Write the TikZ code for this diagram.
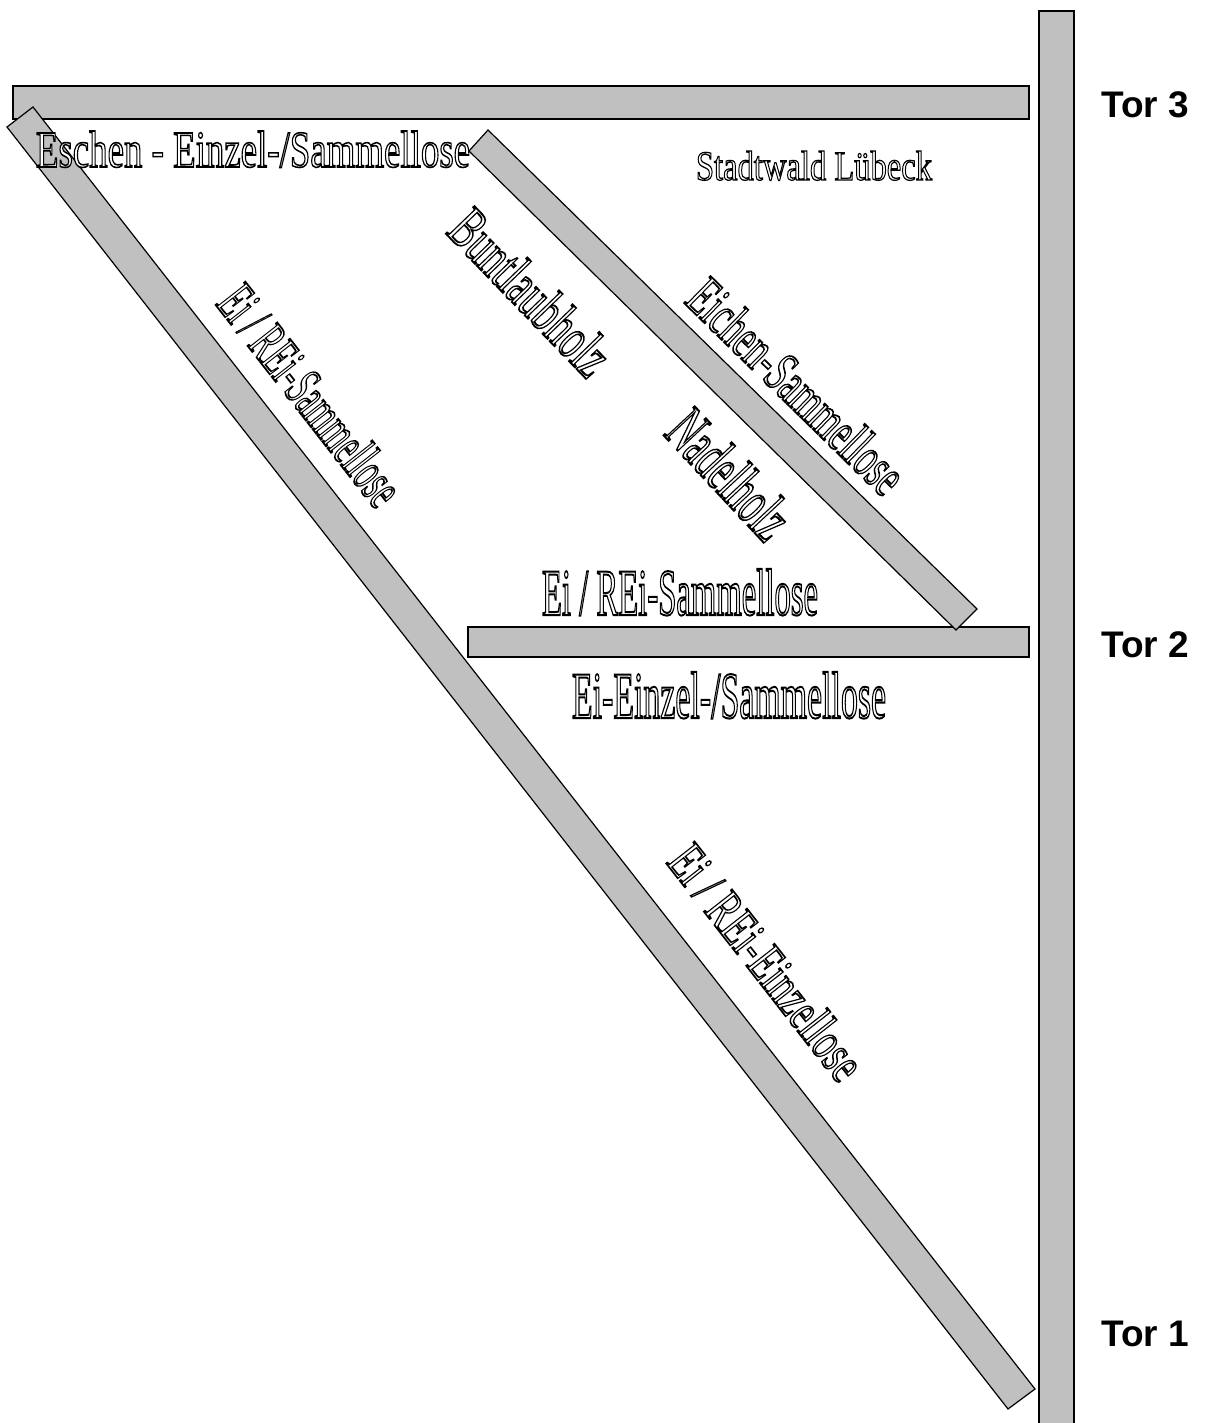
\documentclass[tikz,border=0pt]{standalone}
\usepackage{fontspec}
\setmainfont{Liberation Serif}
\newfontfamily\torfont{Liberation Sans}
\definecolor{roadgray}{RGB}{192,192,192}

% hollow lettering: white fill, black stroke
\newcommand{\hollow}[3]{\resizebox{#1pt}{#2pt}{\fontsize{30}{30}\selectfont
  \special{pdf:code 2 Tr 0.9 w 1 g 0 G}#3\special{pdf:code 0 Tr 0 g}}}

\begin{document}
\begin{tikzpicture}[x=1pt,y=-1pt,
  road/.style={fill=roadgray,draw=black,line width=1.2pt},
  lbl/.style={inner sep=0pt},
  tor/.style={inner sep=0pt,font=\torfont\bfseries\fontsize{37}{37}\selectfont}]
  \useasboundingbox (0,0) rectangle (1213,1423);

  % roads
  \filldraw[road] (13,86) rectangle (1029,119);
  \filldraw[road] (1039,11) rectangle (1074,1440);
  \filldraw[road] (468,627) rectangle (1029,657);
  \filldraw[road] (33,107) -- (1035,1389) -- (1008,1409) -- (7,127) -- cycle;
  \filldraw[road] (488,130) -- (977,609) -- (956,630) -- (469,151) -- cycle;

  % lots
  \node[lbl,anchor=base] (eschen) at (253,167) {\hollow{434}{36}{Eschen - Einzel-/Sammellose}};
  \node[lbl,anchor=base] (stadtwald) at (814,180) {\hollow{236}{29}{Stadtwald Lübeck}};
  \node[lbl,anchor=base] (reisammelmid) at (680,615) {\hollow{276}{46}{Ei / REi-Sammellose}};
  \node[lbl,anchor=base] (eieinzel) at (729,718) {\hollow{314}{46}{Ei-Einzel-/Sammellose}};
  \node[lbl,rotate=-46] (buntlaub) at (531,292) {\hollow{205}{42}{Buntlaubholz}};
  \node[lbl,rotate=-44.4] (eichen) at (797,386) {\hollow{280}{40}{Eichen-Sammellose}};
  \node[lbl,rotate=-47] (nadel) at (730,474) {\hollow{150}{45}{Nadelholz}};
  \node[lbl,rotate=-52] (reisammel) at (311,395) {\hollow{262}{40}{Ei / REi-Sammellose}};
  \node[lbl,rotate=-52] (reieinzel) at (767,962) {\hollow{282}{38}{Ei / REi-Einzellose}};

  % gates
  \foreach \n/\py in {3/118,2/657,1/1346} {
    \node[tor,anchor=base west] (tor\n) at (1101,\py) {Tor \n};
  }
\end{tikzpicture}
\end{document}
